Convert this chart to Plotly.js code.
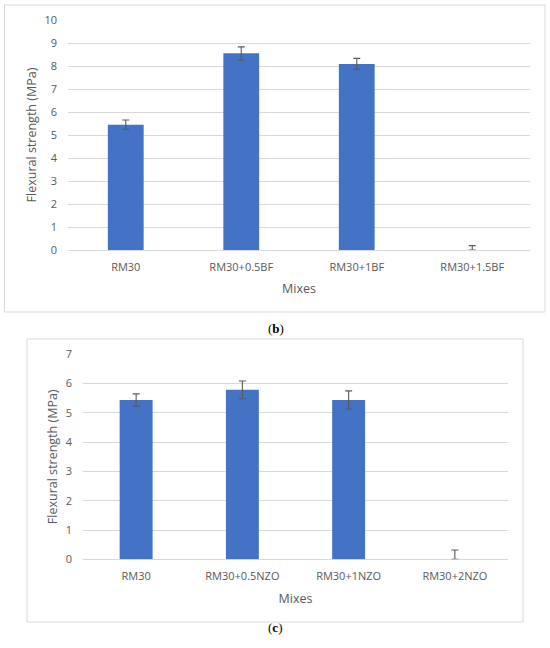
<!DOCTYPE html>
<html>
<head>
<meta charset="utf-8">
<script src="https://cdn.plot.ly/plotly-3.0.1.min.js"></script>
<style>html,body{margin:0;padding:0;background:#fff;}#chart{width:550px;height:648px;}</style>
</head>
<body>
<div id="chart"></div>
<script>
// Data (b): basalt fibre mixes
const mixesB = ["RM30", "RM30+0.5BF", "RM30+1BF", "RM30+1.5BF"];
const strengthB = [5.45, 8.55, 8.09, 0];
const errPlusB = [0.2, 0.28, 0.24, 0.19];
const errMinusB = [0.2, 0.3, 0.23, 0];

// Data (c): nano zinc oxide mixes
const mixesC = ["RM30", "RM30+0.5NZO", "RM30+1NZO", "RM30+2NZO"];
const strengthC = [5.44, 5.79, 5.44, 0];
const errPlusC = [0.21, 0.3, 0.31, 0.32];
const errMinusC = [0.21, 0.31, 0.31, 0];

const tickValsB = [0,1,2,3,4,5,6,7,8,9,10];
const tickValsC = [0,1,2,3,4,5,6,7];

const BLUE = "#4472C4";
const GREY = "#595959";
const GRID = "#d9d9d9";
const FONT = "Open Sans, sans-serif";

function err(plus, minus) {
  return {type: "data", symmetric: false, array: plus, arrayminus: minus,
          color: GREY, thickness: 1.1, width: 3.5};
}

const traces = [
  {type: "bar", x: mixesB, y: strengthB, xaxis: "x", yaxis: "y",
   marker: {color: BLUE}, error_y: err(errPlusB, errMinusB), hoverinfo: "x+y"},
  {type: "bar", x: mixesC, y: strengthC, xaxis: "x2", yaxis: "y2",
   marker: {color: BLUE}, error_y: err(errPlusC, errMinusC), hoverinfo: "x+y"}
];

function xax(domain, anchor) {
  return {domain: domain, anchor: anchor, showgrid: false, zeroline: false,
          showline: false, ticks: "", tickfont: {family: FONT, size: 11, color: GREY},
          ticklabelstandoff: 9,
          title: {text: "Mixes", font: {family: FONT, size: 12.5, color: GREY}, standoff: 11},
          fixedrange: true};
}
function yax(domain, anchor, range, tv) {
  return {domain: domain, anchor: anchor, range: range, tickvals: tv,
          showgrid: true, gridcolor: GRID, gridwidth: 1, zeroline: true, zerolinecolor: GRID,
          zerolinewidth: 1, showline: false, ticks: "",
          tickfont: {family: FONT, size: 11, color: GREY}, ticklabelstandoff: 10,
          title: {text: "Flexural strength (MPa)", font: {family: FONT, size: 12.5, color: GREY}, standoff: 5},
          fixedrange: true};
}

const layout = {
  width: 550, height: 648,
  margin: {l: 0, r: 0, t: 0, b: 0},
  paper_bgcolor: "#fff", plot_bgcolor: "rgba(0,0,0,0)",
  showlegend: false, bargap: 0.69,
  xaxis: xax([68/550, 530/550], "y"),
  yaxis: yax([1-250/648, 1-20/648], "x", [0, 10], tickValsB),
  xaxis2: xax([83/550, 508/550], "y2"),
  yaxis2: yax([1-559.3/648, 1-354.3/648], "x2", [0, 7], tickValsC),
  shapes: [
    {type: "rect", xref: "paper", yref: "paper", x0: 4.5/550, x1: 545/550,
     y0: 1-312/648, y1: 1-5/648, line: {color: GRID, width: 1}},
    {type: "rect", xref: "paper", yref: "paper", x0: 27/550, x1: 523/550,
     y0: 1-622/648, y1: 1-339/648, line: {color: GRID, width: 1}}
  ],
  annotations: [
    {text: "(<b>b</b>)", xref: "paper", yref: "paper", x: 276/550, y: 1-328/648,
     showarrow: false, font: {family: "Liberation Serif, serif", size: 13, color: "#000"}},
    {text: "(<b>c</b>)", xref: "paper", yref: "paper", x: 275/550, y: 1-637/648,
     showarrow: false, font: {family: "Liberation Serif, serif", size: 13, color: "#000"}}
  ]
};

Plotly.newPlot("chart", traces, layout, {displayModeBar: false, staticPlot: true});
</script>
</body>
</html>
